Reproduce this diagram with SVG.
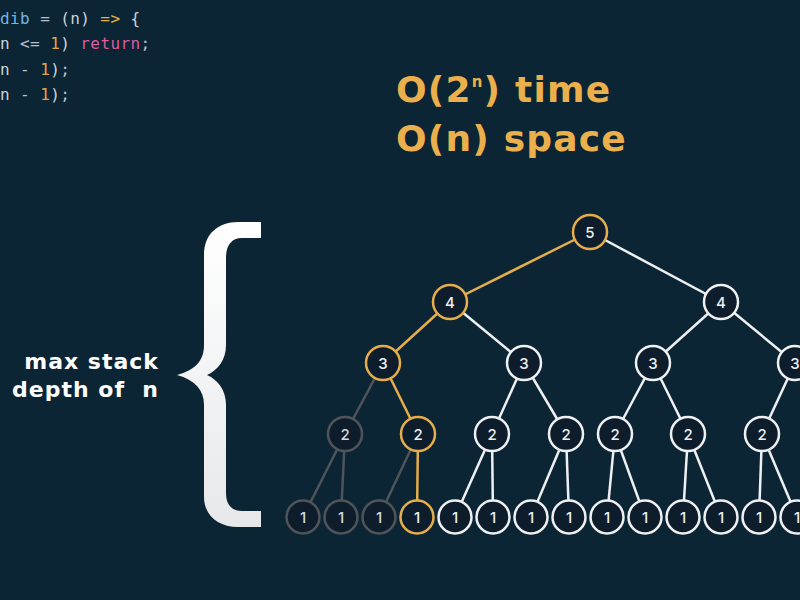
<svg xmlns="http://www.w3.org/2000/svg" width="800" height="600" viewBox="0 0 800 600">
<defs>
<linearGradient id="braceGrad" x1="0" y1="0" x2="0" y2="1">
<stop offset="0" stop-color="#ffffff"/>
<stop offset="1" stop-color="#e6e8ea"/>
</linearGradient>
</defs>
<style>
.code{font-family:"DejaVu Sans Mono","Liberation Mono",monospace;font-size:16px;letter-spacing:0.4px}
.c-id{fill:#72b6e6}.c-op{fill:#b9c0c8}.c-p{fill:#cdd3da}.c-arrow{fill:#e2b341}.c-num{fill:#e2a447}.c-kw{fill:#de5b9f}
.title{font-family:"DejaVu Sans","Open Sans",sans-serif;font-weight:bold;font-size:36px;letter-spacing:1.2px;fill:#ebb04b}
.sup{font-size:15px}
.side{font-family:"DejaVu Sans","Open Sans",sans-serif;font-weight:bold;font-size:22px;letter-spacing:1px;fill:#ffffff;text-anchor:end}
.edge{stroke-width:2.5;fill:none}
.e-gold{stroke:#e6ad4b}.e-gray{stroke:#4f5459}.e-white{stroke:#eef0f2}
.node circle{fill:#0e1d2c;stroke-width:2.5}
.node text{font-family:"Inter","Open Sans","Liberation Sans",sans-serif;font-size:15px;font-weight:500;fill:#eef0f2;text-anchor:middle}
.n-gold circle{stroke:#e6ad4b}.n-gray circle{stroke:#4f5459}.n-gray text{fill:#d6d9dc}.n-white circle{stroke:#eef0f2}
</style>
<rect width="800" height="600" fill="#0c2535"/>

<g id="code">
<text class="code" x="0" y="23.5"><tspan class="c-id">dib</tspan><tspan class="c-op"> = </tspan><tspan class="c-p">(n) </tspan><tspan class="c-arrow">=&gt;</tspan><tspan class="c-p"> {</tspan></text>
<text class="code" x="0" y="49"><tspan class="c-p">n </tspan><tspan class="c-op">&lt;= </tspan><tspan class="c-num">1</tspan><tspan class="c-p">) </tspan><tspan class="c-kw">return</tspan><tspan class="c-op">;</tspan></text>
<text class="code" x="0" y="75"><tspan class="c-p">n </tspan><tspan class="c-op">- </tspan><tspan class="c-num">1</tspan><tspan class="c-p">)</tspan><tspan class="c-op">;</tspan></text>
<text class="code" x="0" y="100"><tspan class="c-p">n </tspan><tspan class="c-op">- </tspan><tspan class="c-num">1</tspan><tspan class="c-p">)</tspan><tspan class="c-op">;</tspan></text>
</g>

<g id="complexity">
<text class="title" x="396" y="102">O(2<tspan class="sup" dy="-15">n</tspan><tspan dy="15">) time</tspan></text>
<text class="title" x="396" y="151">O(n) space</text>
</g>

<g id="stack-label">
<text class="side" x="159" y="369">max stack</text>
<text class="side" x="159" y="397">depth of&#160; n</text>
<path d="M261 222 L238 222 C218 222 204 234 204 255 L204 345 C204 361 195 370 177 375 C195 380 204 390 204 405 L204 497 C204 515 218 527 238 527 L261 527 L261 511 L242 511 C231 511 226 504 226 493 L226 405 C226 390 218 380 207 375 C218 370 226 360 226 345 L226 258 C226 246 231 238 242 238 L261 238 Z" fill="url(#braceGrad)"/>
</g>

<g id="connectors">
<line class="edge e-white" x1="590" y1="232" x2="721" y2="302"/>
<line class="edge e-white" x1="450" y1="302" x2="524" y2="363"/>
<line class="edge e-white" x1="721" y1="302" x2="653" y2="363"/>
<line class="edge e-white" x1="721" y1="302" x2="795" y2="363"/>
<line class="edge e-white" x1="524" y1="363" x2="492" y2="434"/>
<line class="edge e-white" x1="524" y1="363" x2="566" y2="434"/>
<line class="edge e-white" x1="653" y1="363" x2="615" y2="434"/>
<line class="edge e-white" x1="653" y1="363" x2="688" y2="434"/>
<line class="edge e-white" x1="795" y1="363" x2="762" y2="434"/>
<line class="edge e-white" x1="492" y1="434" x2="455" y2="517"/>
<line class="edge e-white" x1="492" y1="434" x2="493" y2="517"/>
<line class="edge e-white" x1="566" y1="434" x2="531" y2="517"/>
<line class="edge e-white" x1="566" y1="434" x2="569" y2="517"/>
<line class="edge e-white" x1="615" y1="434" x2="607" y2="517"/>
<line class="edge e-white" x1="615" y1="434" x2="645" y2="517"/>
<line class="edge e-white" x1="688" y1="434" x2="683" y2="517"/>
<line class="edge e-white" x1="688" y1="434" x2="721" y2="517"/>
<line class="edge e-white" x1="762" y1="434" x2="759" y2="517"/>
<line class="edge e-white" x1="762" y1="434" x2="797" y2="517"/>
<line class="edge e-gray" x1="383" y1="363" x2="345" y2="434"/>
<line class="edge e-gray" x1="345" y1="434" x2="303" y2="517"/>
<line class="edge e-gray" x1="345" y1="434" x2="341" y2="517"/>
<line class="edge e-gray" x1="418" y1="434" x2="379" y2="517"/>
<line class="edge e-gold" x1="590" y1="232" x2="450" y2="302"/>
<line class="edge e-gold" x1="450" y1="302" x2="383" y2="363"/>
<line class="edge e-gold" x1="383" y1="363" x2="418" y2="434"/>
<line class="edge e-gold" x1="418" y1="434" x2="417" y2="517"/>
</g>

<g id="n5" class="node n-gold"><circle cx="590" cy="232" r="17"/><text x="590" y="237.5">5</text></g>
<g id="n4a" class="node n-gold"><circle cx="450" cy="302" r="17"/><text x="450" y="307.5">4</text></g>
<g id="n4b" class="node n-white"><circle cx="721" cy="302" r="17"/><text x="721" y="307.5">4</text></g>
<g id="n3a" class="node n-gold"><circle cx="383" cy="363" r="17"/><text x="383" y="368.5">3</text></g>
<g id="n3b" class="node n-white"><circle cx="524" cy="363" r="17"/><text x="524" y="368.5">3</text></g>
<g id="n3c" class="node n-white"><circle cx="653" cy="363" r="17"/><text x="653" y="368.5">3</text></g>
<g id="n3d" class="node n-white"><circle cx="795" cy="363" r="17"/><text x="795" y="368.5">3</text></g>
<g id="n2a" class="node n-gray"><circle cx="345" cy="434" r="17"/><text x="345" y="439.5">2</text></g>
<g id="n2b" class="node n-gold"><circle cx="418" cy="434" r="17"/><text x="418" y="439.5">2</text></g>
<g id="n2c" class="node n-white"><circle cx="492" cy="434" r="17"/><text x="492" y="439.5">2</text></g>
<g id="n2d" class="node n-white"><circle cx="566" cy="434" r="17"/><text x="566" y="439.5">2</text></g>
<g id="n2e" class="node n-white"><circle cx="615" cy="434" r="17"/><text x="615" y="439.5">2</text></g>
<g id="n2f" class="node n-white"><circle cx="688" cy="434" r="17"/><text x="688" y="439.5">2</text></g>
<g id="n2g" class="node n-white"><circle cx="762" cy="434" r="17"/><text x="762" y="439.5">2</text></g>
<g id="n1a" class="node n-gray"><circle cx="303" cy="517" r="16.5"/><text x="303" y="522.5">1</text></g>
<g id="n1b" class="node n-gray"><circle cx="341" cy="517" r="16.5"/><text x="341" y="522.5">1</text></g>
<g id="n1c" class="node n-gray"><circle cx="379" cy="517" r="16.5"/><text x="379" y="522.5">1</text></g>
<g id="n1d" class="node n-gold"><circle cx="417" cy="517" r="16.5"/><text x="417" y="522.5">1</text></g>
<g id="n1e" class="node n-white"><circle cx="455" cy="517" r="16.5"/><text x="455" y="522.5">1</text></g>
<g id="n1f" class="node n-white"><circle cx="493" cy="517" r="16.5"/><text x="493" y="522.5">1</text></g>
<g id="n1g" class="node n-white"><circle cx="531" cy="517" r="16.5"/><text x="531" y="522.5">1</text></g>
<g id="n1h" class="node n-white"><circle cx="569" cy="517" r="16.5"/><text x="569" y="522.5">1</text></g>
<g id="n1i" class="node n-white"><circle cx="607" cy="517" r="16.5"/><text x="607" y="522.5">1</text></g>
<g id="n1j" class="node n-white"><circle cx="645" cy="517" r="16.5"/><text x="645" y="522.5">1</text></g>
<g id="n1k" class="node n-white"><circle cx="683" cy="517" r="16.5"/><text x="683" y="522.5">1</text></g>
<g id="n1l" class="node n-white"><circle cx="721" cy="517" r="16.5"/><text x="721" y="522.5">1</text></g>
<g id="n1m" class="node n-white"><circle cx="759" cy="517" r="16.5"/><text x="759" y="522.5">1</text></g>
<g id="n1n" class="node n-white"><circle cx="797" cy="517" r="16.5"/><text x="797" y="522.5">1</text></g>
</svg>
